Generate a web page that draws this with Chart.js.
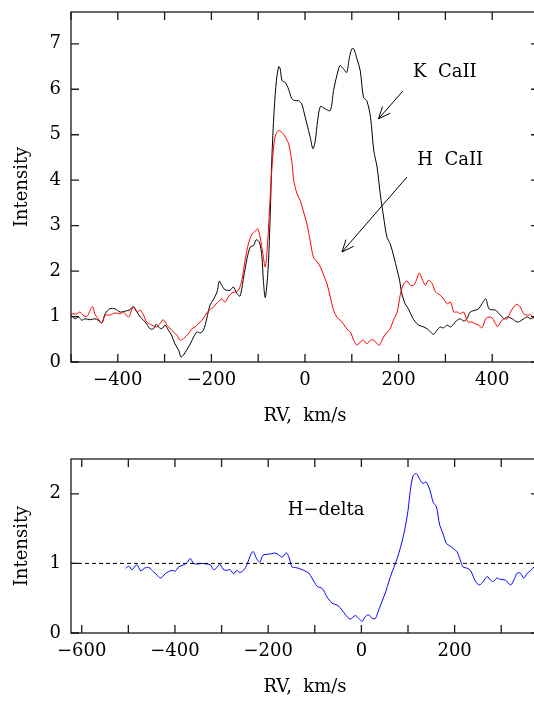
<!DOCTYPE html>
<html>
<head>
<meta charset="utf-8">
<script src="https://cdn.jsdelivr.net/npm/chart.js@4"></script>
<style>
body { margin: 0; background: #fff; overflow: hidden; }
canvas { position: absolute; left: 0; }
</style>
</head>
<body>
<canvas id="caChart" width="545" height="428" style="top:0"></canvas>
<canvas id="hdChart" width="545" height="259" style="top:440px"></canvas>
<script>
// K CaII profile (black)
const rvK = [-500,-491,-484,-477,-470,-459,-449,-442,-434,-427,-417,-406,-395,-384,-374,-367,-359,-352,-345,-338,
  -331,-324,-318,-313,-306,-299,-292,-285,-278,-270,-265,-260,-253,-245,-238,-231,-224,-217,-210,-203,
  -196,-188,-183,-178,-171,-160,-153,-146,-139,-131,-124,-117,-110,-104,-97,-92,-89,-85,-79,-74,
  -71,-66,-61,-56,-53,-49,-42,-35,-28,-21,-14,-7,-3,4,11,17,22,27,33,43,
  54,61,68,75,82,89,95,100,104,111,118,125,132,140,147,154,161,168,175,182,
  190,197,202,207,214,221,229,236,243,254,261,268,275,282,289,296,304,311,318,325,
  332,339,346,353,364,371,378,386,393,400,407,418,425,432,443,453,460,467,475,482,490,500];
const intK = [1.03,0.95,0.99,0.92,0.95,0.93,0.95,0.92,0.86,1.06,1.17,1.17,1.10,1.12,1.15,1.22,1.10,0.99,0.92,0.83,
  0.73,0.73,0.83,0.77,0.73,0.81,0.70,0.59,0.40,0.26,0.11,0.15,0.26,0.40,0.55,0.66,0.64,0.70,0.95,1.25,
  1.37,1.54,1.78,1.69,1.59,1.58,1.65,1.52,1.45,1.87,2.27,2.53,2.56,2.69,2.62,2.31,1.80,1.42,2.02,3.33,
  4.43,5.53,6.20,6.50,6.45,6.19,6.15,6.00,5.79,5.75,5.75,5.68,5.53,5.24,4.95,4.69,4.87,5.31,5.62,5.57,
  5.53,5.97,6.30,6.52,6.45,6.37,6.70,6.89,6.89,6.67,6.41,5.82,5.75,5.38,4.65,4.29,3.68,3.19,2.75,2.60,
  2.31,2.02,1.80,1.50,1.28,1.17,0.99,0.88,0.81,0.77,0.73,0.66,0.61,0.70,0.77,0.75,0.81,0.77,0.84,0.92,
  0.95,0.90,0.95,1.10,1.14,1.17,1.28,1.39,1.17,1.15,1.14,1.03,0.95,0.99,0.95,0.88,0.90,0.95,0.99,0.95,0.99,0.97];

// H CaII profile (red)
const rvH = [-500,-488,-481,-474,-466,-459,-454,-449,-442,-434,-427,-417,-406,-395,-388,-377,-367,-359,-352,-345,
  -338,-327,-317,-310,-303,-295,-285,-274,-267,-260,-249,-242,-235,-228,-220,-213,-204,-196,-190,-185,
  -178,-171,-164,-156,-149,-142,-135,-128,-121,-113,-106,-101,-96,-90,-85,-80,-74,-69,-64,-57,
  -49,-42,-35,-28,-24,-17,-10,-3,4,11,18,26,33,40,47,54,61,68,75,82,
  89,97,104,111,118,125,132,140,147,154,159,168,175,182,189,197,204,211,218,225,
  232,238,244,250,257,264,272,279,289,296,304,311,318,325,332,339,348,357,364,371,
  378,386,393,400,405,412,418,425,432,439,446,453,460,467,475,482,490,500];
const intH = [1.06,1.06,1.10,1.03,1.00,1.14,1.22,1.06,0.95,0.86,1.03,1.03,1.08,1.06,1.10,0.99,1.21,1.10,1.14,1.03,
  0.88,0.81,0.77,0.84,0.93,0.81,0.70,0.59,0.48,0.51,0.62,0.73,0.77,0.84,0.92,1.03,1.15,1.20,1.28,1.32,
  1.39,1.32,1.43,1.52,1.54,1.58,1.80,2.24,2.60,2.82,2.88,2.93,2.75,2.38,2.09,2.60,3.70,4.51,4.95,5.09,
  5.05,4.95,4.80,4.40,3.99,3.70,3.55,3.30,3.04,2.67,2.31,2.20,2.09,1.91,1.72,1.43,1.14,0.99,0.92,0.84,
  0.73,0.66,0.48,0.37,0.44,0.48,0.40,0.48,0.48,0.40,0.37,0.55,0.65,0.73,0.92,1.10,1.50,1.72,1.78,1.69,
  1.69,1.80,1.96,1.83,1.69,1.80,1.72,1.54,1.47,1.39,1.28,1.32,1.10,1.10,1.06,1.10,0.88,0.88,0.84,0.81,
  0.75,0.95,0.99,0.97,0.88,0.78,0.88,0.95,0.95,1.10,1.21,1.27,1.21,1.06,1.03,1.04,0.95,0.97];

// H-delta profile (blue)
const rvD = [-506,-499,-492,-482,-473,-466,-456,-446,-437,-430,-421,-414,-406,-399,-392,-381,-373,-367,-360,-352,
  -342,-331,-324,-317,-310,-304,-297,-290,-282,-274,-268,-261,-253,-245,-238,-232,-225,-218,-211,-202,
  -192,-185,-177,-170,-161,-156,-149,-142,-135,-124,-113,-106,-95,-84,-74,-63,-52,-45,-34,-24,
  -13,-6,2,9,16,23,30,37,44,52,59,66,73,80,87,94,100,105,111,118,
  125,132,139,147,154,161,168,175,182,190,198,205,212,218,227,234,240,247,254,261,
  270,277,283,291,298,309,320,327,334,341,348,356,363,371,380];
const intD = [0.93,0.96,0.91,0.98,0.89,0.93,0.94,0.88,0.82,0.79,0.85,0.88,0.90,0.89,0.95,0.98,1.02,1.07,1.00,0.99,
  1.00,0.99,0.98,0.91,0.94,0.99,0.92,0.90,0.91,0.85,0.90,0.87,0.90,0.99,1.12,1.17,1.07,1.02,1.12,1.13,
  1.14,1.15,1.12,1.09,1.15,1.10,0.95,0.94,0.93,0.90,0.86,0.79,0.67,0.64,0.52,0.43,0.40,0.36,0.26,0.20,
  0.25,0.21,0.17,0.24,0.26,0.21,0.21,0.33,0.45,0.59,0.74,0.88,1.00,1.14,1.31,1.52,1.76,2.05,2.26,2.29,
  2.21,2.15,2.17,2.05,1.88,1.81,1.55,1.43,1.29,1.25,1.21,1.17,1.05,0.95,0.93,0.90,0.81,0.72,0.69,0.74,
  0.81,0.76,0.74,0.79,0.77,0.76,0.69,0.76,0.86,0.86,0.79,0.86,0.90,0.95,0.97];

// axes
const topXRange = [-500, 500];
const topYRange = [0, 7.7];
const topXTicks = [-400, -200, 0, 200, 400];
const topYTicks = [0, 1, 2, 3, 4, 5, 6, 7];
const botXRange = [-623, 381];
const botYRange = [0, 2.5];
const botXTicks = [-600, -400, -200, 0, 200];
const botYTicks = [0, 1, 2];
const continuum = 1;

Chart.defaults.font.family = '"DejaVu Serif", serif';
Chart.defaults.font.size = 18;
Chart.defaults.color = '#000';

const toPts = (xs, ys) => xs.map((x, i) => ({ x: x, y: ys[i] }));
const fmt = v => String(v).replace('-', '\u2212');

// frame with inward ticks on all four sides
const frameTicks = {
  id: 'frameTicks',
  afterDatasetsDraw(chart, args, opts) {
    const ctx = chart.ctx, a = chart.chartArea;
    const xs = chart.scales.x, ys = chart.scales.y;
    ctx.save();
    ctx.strokeStyle = '#1a1a1a';
    ctx.lineWidth = 1.3;
    ctx.strokeRect(a.left, a.top, a.right - a.left, a.bottom - a.top);
    ctx.beginPath();
    for (let v = Math.ceil(xs.min / opts.xStep) * opts.xStep; v <= xs.max; v += opts.xStep) {
      const p = xs.getPixelForValue(v);
      ctx.moveTo(p, a.bottom); ctx.lineTo(p, a.bottom - 8);
      ctx.moveTo(p, a.top); ctx.lineTo(p, a.top + 8);
    }
    for (let v = Math.ceil(ys.min / opts.yStep) * opts.yStep; v <= ys.max; v += opts.yStep) {
      const p = ys.getPixelForValue(v);
      ctx.moveTo(a.left, p); ctx.lineTo(a.left + 8, p);
      ctx.moveTo(a.right, p); ctx.lineTo(a.right - 8, p);
    }
    ctx.stroke();
    ctx.restore();
  }
};

// text labels and arrows, placed in data coordinates
const notes = {
  id: 'notes',
  afterDatasetsDraw(chart, args, opts) {
    const ctx = chart.ctx, xs = chart.scales.x, ys = chart.scales.y;
    ctx.save();
    ctx.fillStyle = '#000';
    ctx.strokeStyle = '#000';
    ctx.lineWidth = 1;
    ctx.font = '18px "DejaVu Serif"';
    ctx.textBaseline = 'middle';
    ctx.textAlign = 'left';
    (opts.labels || []).forEach(l => {
      ctx.fillText(l.text, xs.getPixelForValue(l.x), ys.getPixelForValue(l.y));
    });
    (opts.arrows || []).forEach(ar => {
      const x0 = xs.getPixelForValue(ar.from[0]), y0 = ys.getPixelForValue(ar.from[1]);
      const x1 = xs.getPixelForValue(ar.to[0]), y1 = ys.getPixelForValue(ar.to[1]);
      const ang = Math.atan2(y0 - y1, x0 - x1);
      ctx.beginPath();
      ctx.moveTo(x0, y0); ctx.lineTo(x1, y1);
      [0.4, -0.4].forEach(d => {
        ctx.moveTo(x1, y1);
        ctx.lineTo(x1 + 13 * Math.cos(ang + d), y1 + 13 * Math.sin(ang + d));
      });
      ctx.stroke();
    });
    ctx.restore();
  }
};

const noPad = s => { s.paddingTop = 0; s.paddingBottom = 0; s.paddingLeft = 0; s.paddingRight = 0; };

function scalesFor(xRange, yRange, xTicks, yTicks) {
  return {
    x: {
      type: 'linear', min: xRange[0], max: xRange[1],
      afterBuildTicks: s => { s.ticks = xTicks.map(v => ({ value: v })); },
      afterFit: s => { s.height = 66; noPad(s); },
      grid: { display: false, drawTicks: false },
      border: { display: false },
      ticks: { padding: 8, maxRotation: 0, autoSkip: false, callback: v => fmt(v) },
      title: { display: true, text: 'RV,  km/s', padding: { top: 0, bottom: 1 } }
    },
    y: {
      type: 'linear', min: yRange[0], max: yRange[1],
      afterBuildTicks: s => { s.ticks = yTicks.map(v => ({ value: v })); },
      afterFit: s => { s.width = 71; noPad(s); },
      grid: { display: false, drawTicks: false },
      border: { display: false },
      ticks: { padding: 10, callback: v => fmt(v) },
      title: { display: true, text: 'Intensity', padding: { top: 12, bottom: 0 } }
    }
  };
}

new Chart(document.getElementById('caChart').getContext('2d'), {
  type: 'line',
  data: {
    datasets: [
      { label: 'H CaII', data: toPts(rvH, intH), borderColor: '#ff0000', borderWidth: 1, pointRadius: 0, tension: 0.3 },
      { label: 'K CaII', data: toPts(rvK, intK), borderColor: '#000000', borderWidth: 1, pointRadius: 0, tension: 0.3 }
    ]
  },
  options: {
    responsive: false,
    animation: false,
    layout: { autoPadding: false, padding: { top: 12, right: 6, left: 0, bottom: 0 } },
    plugins: {
      legend: { display: false }, tooltip: { enabled: false },
      frameTicks: { xStep: 100, yStep: 1 },
      notes: {
        labels: [{ text: 'K  CaII', x: 231, y: 6.37 }, { text: 'H  CaII', x: 240, y: 4.43 }],
        arrows: [{ from: [209, 5.96], to: [157, 5.35] }, { from: [218, 4.07], to: [79, 2.42] }]
      }
    },
    scales: scalesFor(topXRange, topYRange, topXTicks, topYTicks)
  },
  plugins: [frameTicks, notes]
});

new Chart(document.getElementById('hdChart').getContext('2d'), {
  type: 'line',
  data: {
    datasets: [
      { label: 'continuum', data: toPts(botXRange, [continuum, continuum]), borderColor: '#000', borderWidth: 1, borderDash: [4, 3], pointRadius: 0 },
      { label: 'H-delta', data: toPts(rvD, intD), borderColor: '#0000ff', borderWidth: 1, pointRadius: 0, tension: 0.3 }
    ]
  },
  options: {
    responsive: false,
    animation: false,
    layout: { autoPadding: false, padding: { top: 19, right: 6, left: 0, bottom: 0 } },
    plugins: {
      legend: { display: false }, tooltip: { enabled: false },
      frameTicks: { xStep: 100, yStep: 1 },
      notes: { labels: [{ text: 'H\u2212delta', x: -158, y: 1.76 }] }
    },
    scales: scalesFor(botXRange, botYRange, botXTicks, botYTicks)
  },
  plugins: [frameTicks, notes]
});
</script>
</body>
</html>
